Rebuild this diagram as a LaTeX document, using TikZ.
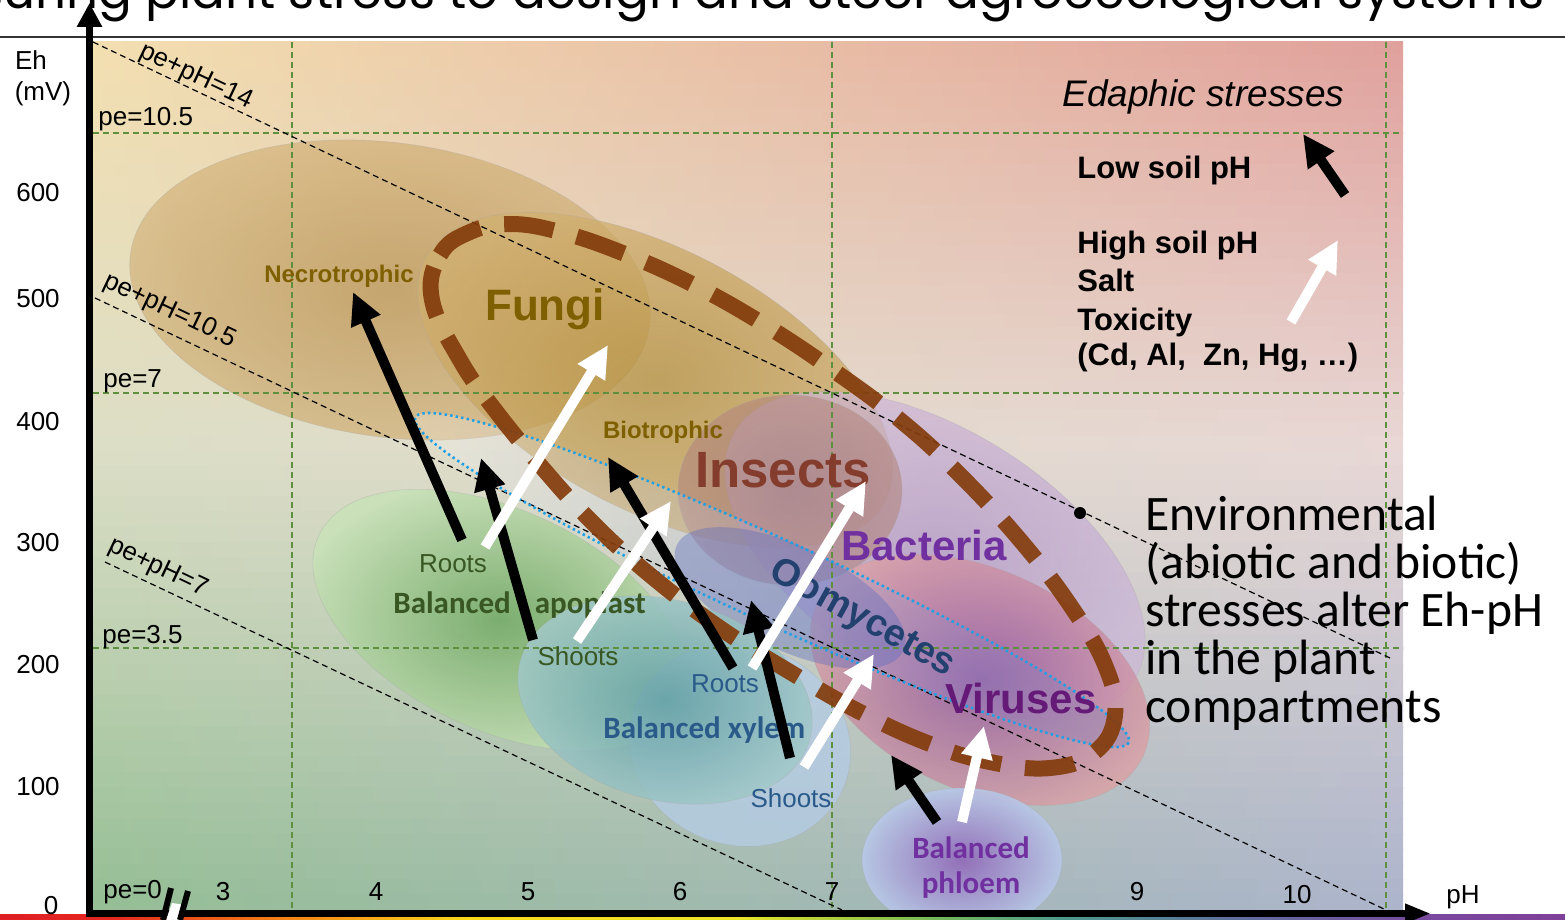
\documentclass[tikz,border=0pt]{standalone}
\usepackage{fontspec}
\setmainfont{Liberation Sans}
\newfontfamily\calibf{Carlito}
\newfontfamily\titlef{Poppins}
\usetikzlibrary{arrows.meta}

\definecolor{bgTL}{HTML}{F3DFB0}
\definecolor{bgTM}{HTML}{EFCDB0}
\definecolor{bgTR}{HTML}{E0A09C}
\definecolor{bgML}{HTML}{DCDEC6}
\definecolor{bgMM}{HTML}{E8E0D4}
\definecolor{bgMR}{HTML}{E8D8D6}
\definecolor{bgBL}{HTML}{94BE94}
\definecolor{bgBM}{HTML}{C4D6CC}
\definecolor{bgBR}{HTML}{ACB4CC}
\definecolor{gridgreen}{HTML}{5E9040}
\definecolor{loopbrown}{HTML}{843C0C}
\definecolor{olivetxt}{HTML}{7F6000}
\definecolor{insecttxt}{HTML}{843C2C}
\definecolor{purptxt}{HTML}{7030A0}
\definecolor{viraltxt}{HTML}{651A78}
\definecolor{oomytxt}{HTML}{22416E}
\definecolor{greentxt}{HTML}{385723}
\definecolor{bluetxt}{HTML}{2A5A8A}
\definecolor{dotblue}{HTML}{1EA0E6}

\pgfdeclarehorizontalshading{rainbowsh}{100bp}{rgb(0bp)=(0.87,0.12,0.14); rgb(25bp)=(0.87,0.12,0.14); rgb(28.5bp)=(0.9,0.15,0.12); rgb(34bp)=(0.95,0.5,0.08); rgb(40bp)=(0.98,0.85,0.1); rgb(48.5bp)=(0.92,0.9,0.15); rgb(52bp)=(0.65,0.8,0.25); rgb(55bp)=(0.45,0.72,0.35); rgb(59bp)=(0.3,0.6,0.55); rgb(65bp)=(0.38,0.42,0.62); rgb(71bp)=(0.48,0.28,0.62); rgb(75bp)=(0.5,0.25,0.6); rgb(100bp)=(0.5,0.25,0.6)}

\tikzset{
  axlbl/.style={font=\fontsize{13pt}{15pt}\selectfont, inner sep=0pt},
  difflbl/.style={font=\fontsize{13pt}{15pt}\selectfont, inner sep=0pt, rotate=-25.4},
  gridln/.style={draw=gridgreen, line width=0.6pt, dash pattern=on 3pt off 2pt},
  diagln/.style={draw=black, line width=0.6pt, dash pattern=on 3pt off 2pt},
  blobline/.style={draw=black!35, draw opacity=0.35, line width=0.3pt},
  blkarr/.style={draw=black, line width=5pt, -{Triangle[width=15pt,length=16pt]}},
  whtarr/.style={draw=white, line width=5pt, -{Triangle[width=15pt,length=16pt]}},
  smallbold/.style={font=\bfseries\fontsize{12pt}{14pt}\selectfont, inner sep=0pt},
  plainlbl/.style={font=\fontsize{13pt}{15pt}\selectfont, inner sep=0pt},
  calbold/.style={font=\calibf\bfseries\fontsize{15.5pt}{18pt}\selectfont, inner sep=0pt},
  stresslbl/.style={font=\bfseries\fontsize{15.5pt}{18pt}\selectfont, inner sep=0pt, anchor=base west},
  envlbl/.style={font=\calibf\fontsize{24.8pt}{24pt}\selectfont, inner sep=0pt, anchor=base west},
  titletxt/.style={font=\titlef\fontsize{25pt}{30pt}\selectfont, inner sep=0pt},
}

\begin{document}
\begin{tikzpicture}[x=0.5pt,y=-0.5pt]
\useasboundingbox (0,0) rectangle (1565,920);

% title (cut off at the top)
\begin{scope}
  \clip (0,0) rectangle (1565,36);
  \node[titletxt, anchor=base east] (title) at (1545,9) {Measuring plant stress to design and steer agroecological systems};
\end{scope}
\draw[line width=0.8pt, black!80] (0,37) -- (1565,37);

% background in strips
\begin{scope}
  \clip (93,42) rectangle (1403,910);
  \foreach \i in {0,...,29} {
    \pgfmathtruncatemacro{\pp}{round(100*(\i+0.5)/30)}
    \pgfmathsetmacro{\ya}{42+\i*13.6}
    \fill[left color=bgML!\pp!bgTL, middle color=bgMM!\pp!bgTM, right color=bgMR!\pp!bgTR] (93,\ya) rectangle (1403,\ya+14.8);
  }
  \foreach \i in {0,...,29} {
    \pgfmathtruncatemacro{\pp}{round(100*(\i+0.5)/30)}
    \pgfmathsetmacro{\ya}{450+\i*15.34}
    \fill[left color=bgBL!\pp!bgML, middle color=bgBM!\pp!bgMM, right color=bgBR!\pp!bgMR] (93,\ya) rectangle (1403,\ya+16.5);
  }
\end{scope}

% rainbow strip
\shade[shading=rainbowsh] (0,914) rectangle (1565,920);

% blobs
\begin{scope}
  \clip (93,42) rectangle (1403,910);
  \path[shade, blobline, shading=radial, inner color={rgb,255:red,184;green,144;blue,78}, outer color={rgb,255:red,212;green,180;blue,124}, fill opacity=0.7, rotate around={-8:(390,290)}] (390,290) ellipse [x radius=262, y radius=147];
  \path[shade, blobline, shading=radial, inner color={rgb,255:red,176;green,138;blue,52}, outer color={rgb,255:red,210;green,176;blue,112}, fill opacity=0.7, rotate around={-28:(655,380)}] (655,380) ellipse [x radius=260, y radius=130];
  \path[shade, blobline, shading=radial, inner color={rgb,255:red,111;green,168;blue,98}, outer color={rgb,255:red,200;green,226;blue,184}, fill opacity=0.85, rotate around={-25:(500,620)}] (500,620) ellipse [x radius=200, y radius=110];
  \path[shade, blobline, shading=radial, inner color={rgb,255:red,176;green,144;blue,200}, outer color={rgb,255:red,205;green,182;blue,218}, fill opacity=0.65, rotate around={-32:(935,555)}] (935,555) ellipse [x radius=235, y radius=125];
  \path[shade, blobline, shading=radial, inner color={rgb,255:red,156;green,116;blue,118}, outer color={rgb,255:red,180;green,134;blue,126}, fill opacity=0.6] (790,490) ellipse [x radius=112, y radius=95];
  \path[shade, blobline, shading=radial, inner color={rgb,255:red,142;green,76;blue,152}, outer color={rgb,255:red,222;green,158;blue,162}, fill opacity=0.75, rotate around={-25:(980,680)}] (980,680) ellipse [x radius=180, y radius=110];
  \path[shade, left color=white, right color={rgb,255:red,96;green,112;blue,192}, fill opacity=0.25, rotate around={-24.5:(772,580)}] (772,580) ellipse [x radius=392, y radius=42];
  \path[fill={rgb,255:red,90;green,106;blue,192}, fill opacity=0.38, rotate around={-25:(790,598)}] (790,598) ellipse [x radius=125, y radius=52];
  \path[blobline, fill={rgb,255:red,180;green,204;blue,228}, fill opacity=0.8, rotate around={-20:(740,745)}] (740,745) ellipse [x radius=112, y radius=100];
  \path[shade, blobline, shading=radial, inner color={rgb,255:red,94;green,158;blue,162}, outer color={rgb,255:red,164;green,202;blue,202}, fill opacity=0.85, rotate around={-15:(665,700)}] (665,700) ellipse [x radius=150, y radius=100];
  \path[shade, blobline, shading=radial, inner color={rgb,255:red,144;green,104;blue,184}, outer color={rgb,255:red,184;green,200;blue,232}, fill opacity=0.9] (962,860) ellipse [x radius=100, y radius=72];
\end{scope}

% grid lines
\draw[gridln] (292,42) -- (292,910);
\draw[gridln] (832,42) -- (832,910);
\draw[gridln] (1386,42) -- (1386,910);
\draw[gridln] (93,133) -- (1403,133);
\draw[gridln] (93,393) -- (1403,393);
\draw[gridln] (93,648) -- (1403,648);

% pe+pH lines
\coordinate (d14a) at (93,42);
\coordinate (d14b) at (1390,658);
\coordinate (d10a) at (95,298);
\coordinate (d10b) at (1386,910);
\coordinate (d7a) at (105,562);
\coordinate (d7b) at (842,910);
\draw[diagln] (d14a) -- (d14b);
\draw[diagln] (d10a) -- (d10b);
\draw[diagln] (d7a) -- (d7b);

% dotted oomycetes outline
\draw[draw=dotblue, line width=1.3pt, dash pattern=on 1.2pt off 1.6pt, rotate around={-24.5:(772,580)}] (772,580) ellipse [x radius=392, y radius=42];

% brown dashed loop
\draw[draw=loopbrown, draw opacity=0.92, line width=8pt, dash pattern=on 25pt off 12pt] plot[smooth cycle, tension=0.7] coordinates {(432,300) (440,255) (470,232) (510,224) (560,232) (620,252) (690,283) (760,322) (830,368) (900,420) (960,475) (1020,540) (1070,605) (1105,665) (1115,715) (1095,752) (1050,768) (990,762) (930,744) (860,712) (790,672) (720,628) (650,575) (590,520) (540,465) (495,410) (460,360)};

% axis labels
\node[axlbl, anchor=base] (eh) at (31,70) {Eh};
\node[axlbl, anchor=base] (mv) at (43,101) {(mV)};
\node[axlbl, anchor=base] (y600) at (38,201) {600};
\node[axlbl, anchor=base] (y500) at (38,307) {500};
\node[axlbl, anchor=base] (y400) at (38,430) {400};
\node[axlbl, anchor=base] (y300) at (38,551) {300};
\node[axlbl, anchor=base] (y200) at (38,673) {200};
\node[axlbl, anchor=base] (y100) at (38,795) {100};
\node[axlbl, anchor=base] (y0) at (51,914) {0};
\node[axlbl, anchor=base] (x3) at (223,900) {3};
\node[axlbl, anchor=base] (x4) at (376,900) {4};
\node[axlbl, anchor=base] (x5) at (528,900) {5};
\node[axlbl, anchor=base] (x6) at (680,900) {6};
\node[axlbl, anchor=base] (x7) at (832,900) {7};
\node[axlbl, anchor=base] (x9) at (1137,900) {9};
\node[axlbl, anchor=base] (x10) at (1297,903) {10};
\node[axlbl, anchor=base] (xph) at (1463,903) {pH};
\node[axlbl, anchor=base west] (pe105) at (98,126) {pe=10.5};
\node[axlbl, anchor=base west] (pe7) at (103,387) {pe=7};
\node[axlbl, anchor=base west] (pe35) at (102,643) {pe=3.5};
\node[axlbl, anchor=base west] (pe0) at (103,898) {pe=0};
\node[difflbl] (l14) at (196,77) {pe+pH=14};
\node[difflbl] (l105) at (170,311) {pe+pH=10.5};
\node[difflbl] (l7) at (158,568) {pe+pH=7};

% region labels
\node[smallbold, text=olivetxt, anchor=base] (necro) at (339,282) {Necrotrophic};
\node[inner sep=0pt, font=\bfseries\fontsize{22pt}{26pt}\selectfont, text=olivetxt, anchor=base] (fungi) at (545,320) {Fungi};
\node[smallbold, text=olivetxt, anchor=base] (biotro) at (663,438) {Biotrophic};
\node[inner sep=0pt, font=\bfseries\fontsize{25.5pt}{30pt}\selectfont, text=insecttxt, anchor=base] (insects) at (783,487) {Insects};
\node[inner sep=0pt, font=\bfseries\fontsize{21pt}{25pt}\selectfont, text=purptxt, anchor=base] (bacteria) at (924,560) {Bacteria};
\node[inner sep=0pt, font=\bfseries\fontsize{19pt}{23pt}\selectfont, text=oomytxt, rotate=-29] (oomy) at (862,619) {Oomycetes};
\node[inner sep=0pt, font=\bfseries\fontsize{21pt}{25pt}\selectfont, text=viraltxt, anchor=base] (viruses) at (1021,713) {Viruses};
\node[plainlbl, text=greentxt, anchor=base] (roots1) at (453,572) {Roots};
\node[calbold, text=greentxt, anchor=base west] (apoplast) at (393,613) {Balanced\hspace{12pt}apoplast};
\node[plainlbl, text=greentxt, anchor=base] (shoots1) at (578,665) {Shoots};
\node[plainlbl, text=bluetxt, anchor=base] (roots2) at (725,692) {Roots};
\node[calbold, text=bluetxt, anchor=base west] (xylem) at (603,738) {Balanced xylem};
\node[plainlbl, text=bluetxt, anchor=base] (shoots2) at (791,807) {Shoots};
\node[calbold, text=purptxt, anchor=base] (phl1) at (971,858) {Balanced};
\node[calbold, text=purptxt, anchor=base] (phl2) at (971,893) {phloem};

% stresses text
\node[inner sep=0pt, font=\itshape\fontsize{18.5pt}{22pt}\selectfont, anchor=base west] (edaphic) at (1062,107) {Edaphic stresses};
\node[stresslbl] (low) at (1077,178) {Low soil pH};
\node[stresslbl] (high) at (1077,253) {High soil pH};
\node[stresslbl] (salt) at (1077,292) {Salt};
\node[stresslbl] (tox) at (1077,330) {Toxicity};
\node[stresslbl] (cd) at (1077,365) {(Cd, Al,\ \ Zn, Hg, …)};

\node[circle, fill=black, inner sep=0pt, minimum size=6pt] (bullet) at (1080,513) {};
\node[envlbl] (env1) at (1145,530) {Environmental};
\node[envlbl] (env2) at (1145,578) {(abiotic and biotic)};
\node[envlbl] (env3) at (1145,626) {stresses alter Eh-pH};
\node[envlbl] (env4) at (1145,674) {in the plant};
\node[envlbl] (env5) at (1145,722) {compartments};

% arrows
\coordinate (a1s) at (462,540); \coordinate (a1e) at (353,292);
\coordinate (a2s) at (533,640); \coordinate (a2e) at (481,458);
\coordinate (a3s) at (733,668); \coordinate (a3e) at (608,457);
\coordinate (a4s) at (790,758); \coordinate (a4e) at (751,600);
\coordinate (a5s) at (937,822); \coordinate (a5e) at (891,755);
\coordinate (a6s) at (1345,195); \coordinate (a6e) at (1303,134);
\coordinate (w1s) at (485,547); \coordinate (w1e) at (608,345);
\coordinate (w2s) at (577,641); \coordinate (w2e) at (671,501);
\coordinate (w3s) at (752,668); \coordinate (w3e) at (866,481);
\coordinate (w4s) at (804,767); \coordinate (w4e) at (874,654);
\coordinate (w5s) at (962,822); \coordinate (w5e) at (984,726);
\coordinate (w6s) at (1291,322); \coordinate (w6e) at (1338,240);
\draw[blkarr] (a1s) -- (a1e);
\draw[blkarr] (a2s) -- (a2e);
\draw[blkarr] (a3s) -- (a3e);
\draw[blkarr] (a4s) -- (a4e);
\draw[blkarr] (a5s) -- (a5e);
\draw[blkarr] (a6s) -- (a6e);
\draw[whtarr] (w1s) -- (w1e);
\draw[whtarr] (w2s) -- (w2e);
\draw[whtarr] (w3s) -- (w3e);
\draw[whtarr] (w4s) -- (w4e);
\draw[whtarr] (w5s) -- (w5e);
\draw[whtarr] (w6s) -- (w6e);

% axes
\coordinate (orig) at (89.5,917);
\coordinate (ytip) at (89.5,3);
\coordinate (xorig) at (86,913.5);
\coordinate (xtip) at (1431,913.5);
\draw[line width=3.5pt, -{Triangle[width=12pt,length=12pt]}] (orig) -- (ytip);
\draw[line width=3.5pt, -{Triangle[width=9pt,length=13pt]}] (xorig) -- (xtip);

% axis break
\fill[white] (172,903) -- (186,905) -- (180,920) -- (166,920) -- cycle;
\coordinate (br1a) at (171,888); \coordinate (br1b) at (163,920);
\coordinate (br2a) at (188,891); \coordinate (br2b) at (180,920);
\draw[line width=3pt] (br1a) -- (br1b);
\draw[line width=3pt] (br2a) -- (br2b);
\end{tikzpicture}
\end{document}
